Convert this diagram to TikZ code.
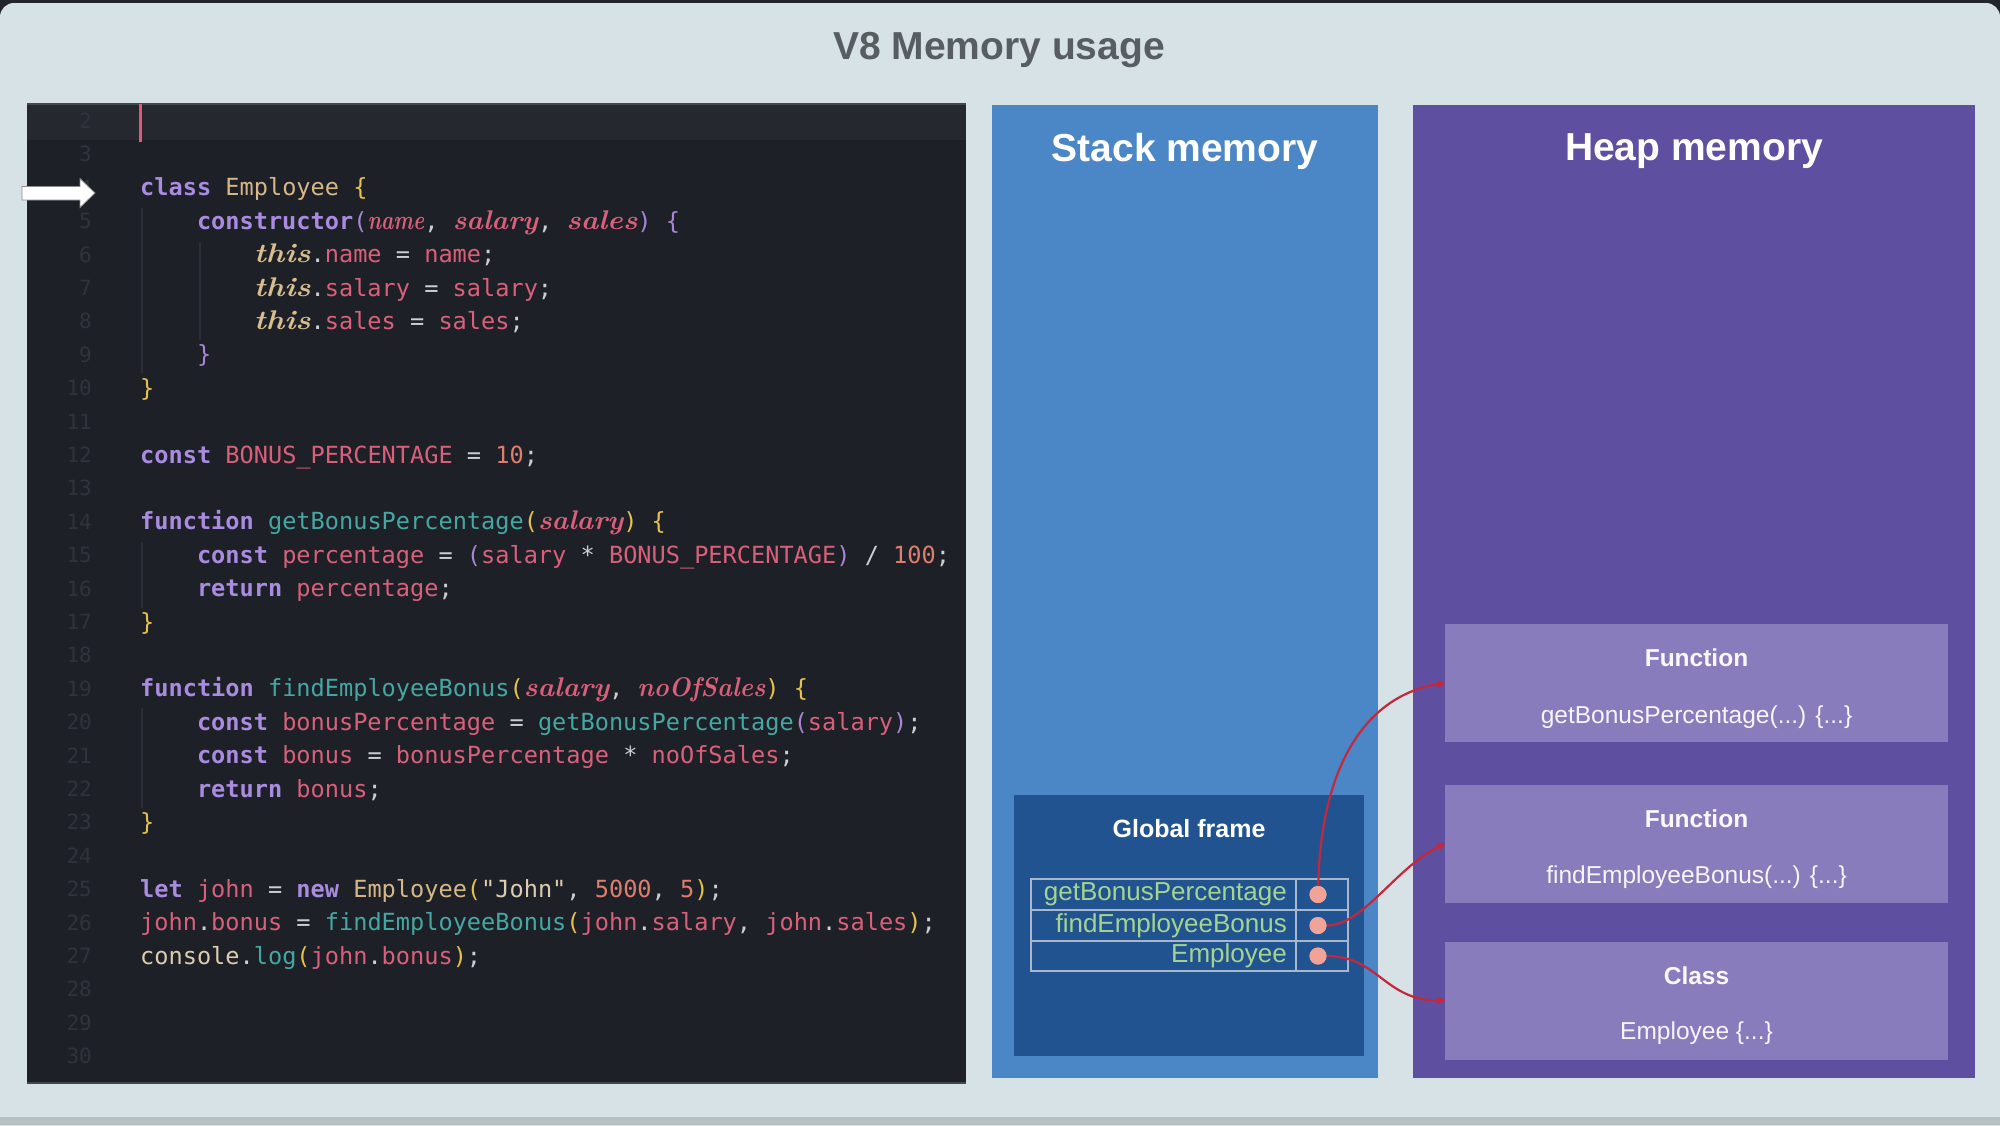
\documentclass[tikz,border=0pt]{standalone}
\usepackage{fontspec}
\usepackage{graphicx}
\usetikzlibrary{arrows.meta}
\newfontfamily\sansf{Liberation Sans}
\newfontfamily\codefont{DejaVu Sans Mono}
\definecolor{cbg}{HTML}{D6E2E6}
\definecolor{cdark}{HTML}{22262A}
\definecolor{cbot}{HTML}{B7C0C3}
\definecolor{ccode}{HTML}{1E2027}
\definecolor{chl}{HTML}{262830}
\definecolor{cborder}{HTML}{44474E}
\definecolor{ccursor}{HTML}{E05A78}
\definecolor{cguide}{HTML}{2C2F37}
\definecolor{clnum}{HTML}{30333B}
\definecolor{cop}{HTML}{CBCED3}
\definecolor{ckw}{HTML}{A98BE0}
\definecolor{cclass}{HTML}{D6B788}
\definecolor{cyel}{HTML}{E6C24C}
\definecolor{clav}{HTML}{A985D6}
\definecolor{cvar}{HTML}{D9607A}
\definecolor{cnum}{HTML}{E07E6E}
\definecolor{cfn}{HTML}{45A7A3}
\definecolor{cthis}{HTML}{D8BE8E}
\definecolor{cstr}{HTML}{DDCDB0}
\definecolor{ctitle}{HTML}{575D61}
\definecolor{cstack}{HTML}{4B87C6}
\definecolor{cheap}{HTML}{5F4FA1}
\definecolor{cglob}{HTML}{215391}
\definecolor{ctbl}{HTML}{A8B8CC}
\definecolor{ctbltext}{HTML}{A4D48F}
\definecolor{cdot}{HTML}{F2A397}
\definecolor{cred}{HTML}{C4283A}
\definecolor{cbox}{HTML}{897CBC}
\newcommand\ckK[1]{{\color{ckw}\bfseries #1}}
\newcommand\ckC[1]{{\color{cclass}#1}}
\newcommand\ckY[1]{{\color{cyel}#1}}
\newcommand\ckL[1]{{\color{clav}#1}}
\newcommand\ckV[1]{{\color{cvar}#1}}
\newcommand\ckN[1]{{\color{cnum}#1}}
\newcommand\ckF[1]{{\color{cfn}#1}}
\newcommand\ckS[1]{{\color{cstr}#1}}
\newcommand\ckI[2]{{\setbox0\hbox{#2}\setbox2\hbox{\rmfamily\itshape\bfseries\fontsize{27}{27}\selectfont #2}%
  \pgfmathsetmacro\ckratio{\wd0/\wd2}%
  \color{#1}\makebox[\wd0][l]{\scalebox{\ckratio}[1]{\box2}}}}
\begin{document}
\begin{tikzpicture}[x=1pt,y=-1pt,
  codeline/.style={anchor=west, inner sep=0pt, text height=17pt, text depth=5pt,
    font=\codefont\fontsize{23.6}{28}\selectfont\frenchspacing, text=cop},
  lnum/.style={anchor=east, inner sep=0pt, text height=15pt, text depth=4pt,
    font=\codefont\fontsize{21}{24}\selectfont, text=clnum},
  ptitle/.style={font=\sansf\bfseries\fontsize{39}{44}\selectfont, text=white, inner sep=0pt},
  heapbox/.style={fill=cbox, minimum width=503pt, minimum height=118pt, inner sep=0pt},
  hbhead/.style={font=\sansf\bfseries\fontsize{24.5}{28}\selectfont, text=white!95!cbox, inner sep=0pt},
  hbsub/.style={font=\sansf\fontsize{24.5}{28}\selectfont, text=white!92!cbox, inner sep=0pt},
  tbltext/.style={anchor=east, font=\sansf\fontsize{26}{30}\selectfont, text=ctbltext, inner sep=0pt},
  dotn/.style={circle, fill=cdot, minimum size=17pt, inner sep=0pt},
  conn/.style={draw=cred, line width=2.2pt, -{Latex[round,length=11pt,width=9pt]}},
  guide/.style={draw=cguide, line width=1.3pt}
]
\useasboundingbox (0,0) rectangle (2000,1125);
% background
\fill[cdark] (0,0) rectangle (2000,1125);
\fill[cbg, rounded corners=14pt] (0,3) rectangle (2000,1145);
\fill[cbot] (0,1117) rectangle (2000,1125);
\node[font=\sansf\bfseries\fontsize{39}{44}\selectfont, text=ctitle, inner sep=0pt] (title) at (999,50) {V8 Memory usage};

% code panel
\fill[ccode] (27,104) rectangle (966,1084);
\fill[chl] (27,104) rectangle (966,140);
\draw[cborder, line width=2pt] (27,104) -- (966,104);
\draw[cborder, line width=2pt] (27,1083) -- (966,1083);
\fill[ccursor] (138.5,104) rectangle (141.5,142);
% indent guides
\draw[guide] (142,208) -- (142,373);
\draw[guide] (200,242) -- (200,340);
\draw[guide] (142,542) -- (142,608);
\draw[guide] (142,708) -- (142,808);

% line numbers
\foreach \n in {2,...,30} {
  \node[lnum] (n\n) at (92,{123+(\n-2)*33.4}) {\n};
}

% code lines
\node[codeline] (L4) at (140,189.8) {\ckK{class} \ckC{Employee} \ckY{\{}};
\node[codeline] (L5) at (196.8,223.2) {\ckK{constructor}\ckL{(}\ckI{cvar}{name}, \ckI{cvar}{salary}, \ckI{cvar}{sales}\ckL{)} \ckL{\{}};
\node[codeline] (L6) at (253.6,256.6) {\ckI{cthis}{this}.\ckV{name} = \ckV{name};};
\node[codeline] (L7) at (253.6,290) {\ckI{cthis}{this}.\ckV{salary} = \ckV{salary};};
\node[codeline] (L8) at (253.6,323.4) {\ckI{cthis}{this}.\ckV{sales} = \ckV{sales};};
\node[codeline] (L9) at (196.8,356.8) {\ckL{\}}};
\node[codeline] (L10) at (140,390.2) {\ckY{\}}};
\node[codeline] (L12) at (140,457) {\ckK{const} \ckV{BONUS\_PERCENTAGE} = \ckN{10};};
\node[codeline] (L14) at (140,523.8) {\ckK{function} \ckF{getBonusPercentage}\ckY{(}\ckI{cvar}{salary}\ckY{)} \ckY{\{}};
\node[codeline] (L15) at (196.8,557.2) {\ckK{const} \ckV{percentage} = \ckL{(}\ckV{salary} * \ckV{BONUS\_PERCENTAGE}\ckL{)} / \ckN{100};};
\node[codeline] (L16) at (196.8,590.6) {\ckK{return} \ckV{percentage};};
\node[codeline] (L17) at (140,624) {\ckY{\}}};
\node[codeline] (L19) at (140,690.8) {\ckK{function} \ckF{findEmployeeBonus}\ckY{(}\ckI{cvar}{salary}, \ckI{cvar}{noOfSales}\ckY{)} \ckY{\{}};
\node[codeline] (L20) at (196.8,724.2) {\ckK{const} \ckV{bonusPercentage} = \ckF{getBonusPercentage}\ckL{(}\ckV{salary}\ckL{)};};
\node[codeline] (L21) at (196.8,757.6) {\ckK{const} \ckV{bonus} = \ckV{bonusPercentage} * \ckV{noOfSales};};
\node[codeline] (L22) at (196.8,791) {\ckK{return} \ckV{bonus};};
\node[codeline] (L23) at (140,824.4) {\ckY{\}}};
\node[codeline] (L25) at (140,891.2) {\ckK{let} \ckV{john} = \ckK{new} \ckC{Employee}\ckY{(}\ckS{"John"}, \ckN{5000}, \ckN{5}\ckY{)};};
\node[codeline] (L26) at (140,924.6) {\ckV{john}.\ckV{bonus} = \ckF{findEmployeeBonus}\ckY{(}\ckV{john}.\ckV{salary}, \ckV{john}.\ckV{sales}\ckY{)};};
\node[codeline] (L27) at (140,958) {\ckS{console}.\ckF{log}\ckY{(}\ckV{john}.\ckV{bonus}\ckY{)};};

% white pointer arrow
\draw[fill=white, draw=black!45, line width=0.8pt] (22,186.5) -- (80,186.5) -- (80,178.5) -- (95,193) -- (80,207.5) -- (80,200) -- (22,200) -- cycle;

% stack panel
\fill[cstack] (992,105) rectangle (1378,1078);
\node[ptitle] (stacktitle) at (1185,151) {Stack memory};
\fill[cglob] (1014,795) rectangle (1364,1056);
\node[font=\sansf\bfseries\fontsize{25}{28}\selectfont, text=white, inner sep=0pt] (globtitle) at (1189,829) {Global frame};
\draw[ctbl, line width=1.5pt] (1031,879) rectangle (1348,971);
\draw[ctbl, line width=1.5pt] (1031,910) -- (1348,910);
\draw[ctbl, line width=1.5pt] (1031,941) -- (1348,941);
\draw[ctbl, line width=1.5pt] (1296,879) -- (1296,971);
\node[tbltext] (t1) at (1287,894.5) {getBonusPercentage};
\node[tbltext] (t2) at (1287,925.5) {findEmployeeBonus};
\node[tbltext] (t3) at (1287,956) {Employee};

% heap panel
\fill[cheap] (1413,105) rectangle (1975,1078);
\node[ptitle] (heaptitle) at (1694,151) {Heap memory};
\node[heapbox] (hb1) at (1696.5,683) {};
\node[heapbox] (hb2) at (1696.5,843.5) {};
\node[heapbox] (hb3) at (1696.5,1000.5) {};
\node[hbhead] (h1a) at ([yshift=25pt]hb1.center) {Function};
\node[hbsub] (h1b) at ([yshift=-34pt]hb1.center) {getBonusPercentage(...) \{...\}};
\node[hbhead] (h2a) at ([yshift=25pt]hb2.center) {Function};
\node[hbsub] (h2b) at ([yshift=-34pt]hb2.center) {findEmployeeBonus(...) \{...\}};
\node[hbhead] (h3a) at ([yshift=25pt]hb3.center) {Class};
\node[hbsub] (h3b) at ([yshift=-33pt]hb3.center) {Employee \{...\}};

% dots and pointers
\node[dotn] (d1) at (1318,894.5) {};
\node[dotn] (d2) at (1318,925.5) {};
\node[dotn] (d3) at (1318,956) {};
\draw[conn] (d1) .. controls +(3,-135) and +(-75,12) .. (hb1.west);
\draw[conn] (d2) .. controls +(45,0) and +(-50,25) .. (hb2.west);
\draw[conn] (d3) .. controls +(60,0) and +(-60,0) .. (hb3.west);
\node[dotn] at (d1) {};
\node[dotn] at (d2) {};
\node[dotn] at (d3) {};
\end{tikzpicture}
\end{document}
